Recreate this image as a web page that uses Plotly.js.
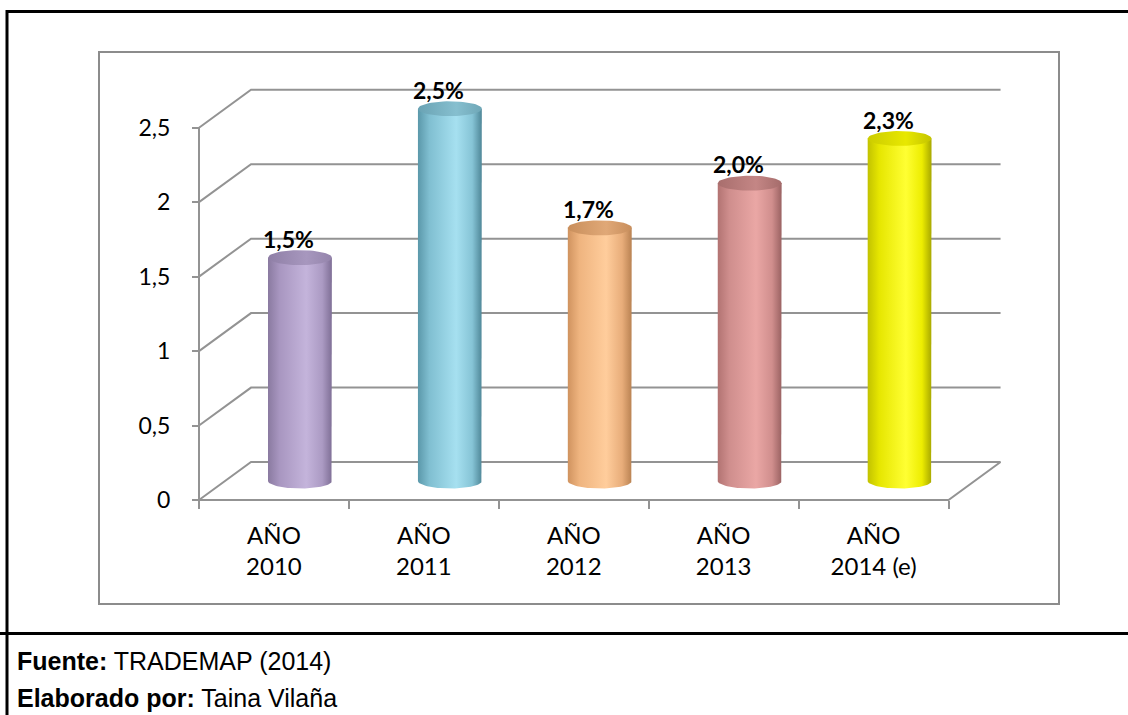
<!DOCTYPE html>
<html>
<head>
<meta charset="utf-8">
<script src="https://cdn.plot.ly/plotly-3.0.1.min.js"></script>
<style>html,body{margin:0;padding:0;background:#fff;}#chart{width:1128px;height:715px;}</style>
</head>
<body>
<div id="chart"></div>
<script>
// ---- data ----
const categories = ['AÑO<br>2010', 'AÑO<br>2011', 'AÑO<br>2012', 'AÑO<br>2013', 'AÑO<br>2014 (e)'];
const values = [1.5, 2.5, 1.7, 2.0, 2.3];
const yTicks = [0, 0.5, 1, 1.5, 2, 2.5];
const sourceText = '<b>Fuente:</b> TRADEMAP (2014)';
const authorText = '<b>Elaborado por:</b> Taina Vilaña';

// ---- styles ----
const bodyScales = [
  ['#8a7aa0', '#a896c0', '#c4b4db', '#ab9ac3', '#7f6f96'],
  ['#5b98aa', '#80bfd1', '#a6e0f0', '#86c4d6', '#4f8798'],
  ['#d0935f', '#efb47f', '#ffcd9c', '#e8ad7a', '#b98252'],
  ['#b27372', '#cf8e8d', '#eaa7a5', '#d08e8d', '#9a6262'],
  ['#c2c200', '#e6e600', '#ffff33', '#eded00', '#a8a800']
];
const topScales = [
  ['#8f7fa6', '#a797be', '#9484ab'],
  ['#6aa3b4', '#86bfcf', '#6fa7b7'],
  ['#c98f5c', '#e0a877', '#c88e5c'],
  ['#a86e6d', '#c48685', '#a56c6b'],
  ['#cccc00', '#e8e800', '#c4c400']
];
const gridColor = '#939393';
const chartFont = 'Lato, "Open Sans", sans-serif';
const footFont = '"Liberation Sans", Arial, sans-serif';

// ---- geometry (layout) ----
const W = 1128, H = 715;
const M = {l: 196, r: 124, t: 86, b: 212};
const PW = W - M.l - M.r, PH = H - M.t - M.b;
const xr = [-0.52, 4.87];
const yr = [-0.02, 2.78];
const depthX = 0.347, depthY = 0.255;   // 3D depth offset in axis units
const cw = 0.213, eh = 0.05;            // cylinder half width, ellipse half height
const x2r = [xr[0] - depthX / 2, xr[1] - depthX / 2];
const y2r = [yr[0] - depthY / 2, yr[1] - depthY / 2];
const px = v => (v - M.l) / PW;
const py = v => (H - M.b - v) / PH;

const traces = [];
values.forEach((v, i) => {
  // body with elliptic bottom
  const bx = [i - cw, i - cw, i + cw, i + cw];
  const by = [0, v, v, 0];
  for (let k = 1; k < 40; k++) {
    const t = Math.PI * k / 40;
    bx.push(i + cw * Math.cos(t));
    by.push(-eh * Math.sin(t));
  }
  const bs = bodyScales[i];
  traces.push({
    type: 'scatter', x: bx, y: by, xaxis: 'x2', yaxis: 'y2',
    mode: 'lines', line: {width: 0}, fill: 'toself', fillcolor: bs[2],
    fillgradient: {type: 'horizontal', colorscale: [[0, bs[0]], [0.18, bs[1]], [0.6, bs[2]], [0.85, bs[3]], [1, bs[4]]]},
    hoverinfo: 'skip', showlegend: false
  });
  // top ellipse
  const tx = [], ty = [];
  for (let k = 0; k <= 60; k++) {
    const t = 2 * Math.PI * k / 60;
    tx.push(i + cw * Math.cos(t));
    ty.push(v + eh * Math.sin(t));
  }
  const ts = topScales[i];
  traces.push({
    type: 'scatter', x: tx, y: ty, xaxis: 'x2', yaxis: 'y2',
    mode: 'lines', line: {width: 0}, fill: 'toself', fillcolor: ts[1],
    fillgradient: {type: 'horizontal', colorscale: [[0, ts[0]], [0.6, ts[1]], [1, ts[2]]]},
    hoverinfo: 'skip', showlegend: false
  });
});
// category axis carrier (invisible)
traces.push({type: 'scatter', x: categories, y: values.map(() => null), xaxis: 'x', yaxis: 'y', mode: 'markers', showlegend: false, hoverinfo: 'skip'});

const shapes = [];
const last = categories.length - 0.5;
// back wall gridlines with diagonals
yTicks.forEach(t => {
  shapes.push({type: 'path', xref: 'x', yref: 'y', layer: 'below',
    path: `M ${-0.5},${t} L ${-0.5 + depthX},${t + depthY} L ${last + depthX},${t + depthY}`,
    line: {color: gridColor, width: 2}});
});
// front vertical axis
shapes.push({type: 'line', xref: 'x', yref: 'y', layer: 'below', x0: -0.5, x1: -0.5, y0: 0, y1: yTicks[yTicks.length - 1], line: {color: gridColor, width: 2}});
// front floor edge and right diagonal
shapes.push({type: 'path', xref: 'x', yref: 'y', layer: 'below',
  path: `M ${-0.5},0 L ${last},0 L ${last + depthX},${depthY}`, line: {color: gridColor, width: 2}});
// frame decoration (paper)
shapes.push({type: 'rect', xref: 'paper', yref: 'paper', x0: px(99), x1: px(1059), y0: py(52), y1: py(604), line: {color: '#8c8c8c', width: 2}, layer: 'below'});
shapes.push({type: 'line', xref: 'paper', yref: 'paper', x0: px(6), x1: px(1128), y0: py(11.5), y1: py(11.5), line: {color: '#000', width: 3}});
shapes.push({type: 'line', xref: 'paper', yref: 'paper', x0: px(7), x1: px(7), y0: py(10), y1: py(715), line: {color: '#000', width: 3}});
shapes.push({type: 'line', xref: 'paper', yref: 'paper', x0: px(0), x1: px(1128), y0: py(633.5), y1: py(633.5), line: {color: '#000', width: 3}});

const annotations = values.map((v, i) => ({
  xref: 'x2', yref: 'y2', x: i, y: v, text: '<b>' + v.toFixed(1).replace('.', ',') + '%</b>',
  showarrow: false, xshift: -11, yshift: 19, font: {family: chartFont, size: 23, color: '#000'}
}));
annotations.push({xref: 'paper', yref: 'paper', x: px(15), y: py(661), xanchor: 'left', yanchor: 'middle', showarrow: false,
  text: sourceText, font: {family: footFont, size: 25, color: '#000'}});
annotations.push({xref: 'paper', yref: 'paper', x: px(15), y: py(698), xanchor: 'left', yanchor: 'middle', showarrow: false,
  text: authorText, font: {family: footFont, size: 25, color: '#000'}});

const layout = {
  width: W, height: H, margin: M, separators: ',.',
  paper_bgcolor: '#fff', plot_bgcolor: 'rgba(0,0,0,0)',
  font: {family: chartFont, color: '#000'},
  showlegend: false,
  xaxis: {type: 'category', categoryarray: categories, range: xr, anchor: 'free',
    position: (0 - yr[0]) / (yr[1] - yr[0]),
    tickson: 'boundaries', ticks: 'outside', ticklen: 8, tickwidth: 2, tickcolor: gridColor,
    showgrid: false, showline: false, zeroline: false, fixedrange: true,
    tickfont: {family: chartFont, size: 24, color: '#000'}, ticklabelstandoff: 19},
  yaxis: {range: yr, anchor: 'free', position: (-0.5 - xr[0]) / (xr[1] - xr[0]),
    tickvals: yTicks, ticks: 'outside', ticklen: 7, tickwidth: 2, tickcolor: gridColor,
    showgrid: false, showline: false, zeroline: false, fixedrange: true,
    tickfont: {family: chartFont, size: 23, color: '#000'}, ticklabelstandoff: 17},
  xaxis2: {range: x2r, overlaying: 'x', anchor: 'y2', visible: false, fixedrange: true},
  yaxis2: {range: y2r, overlaying: 'y', anchor: 'x2', visible: false, fixedrange: true},
  shapes: shapes, annotations: annotations
};

Plotly.newPlot('chart', traces, layout, {displayModeBar: false, staticPlot: true});
</script>
</body>
</html>
